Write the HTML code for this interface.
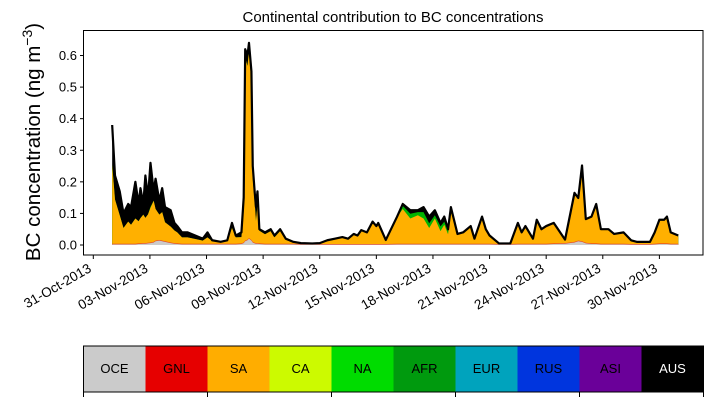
<!DOCTYPE html>
<html><head><meta charset="utf-8"><style>
html,body{margin:0;padding:0;background:#fff;}
svg{display:block;font-family:"Liberation Sans","DejaVu Sans",sans-serif;}
</style></head><body>
<svg id="chart" width="713" height="402" viewBox="0 0 713 402">
<text x="393" y="22" font-size="15" text-anchor="middle">Continental contribution to BC concentrations</text>
<text transform="translate(40,142) rotate(-90)" font-size="20.5" text-anchor="middle">BC concentration (ng m<tspan dy="-8" font-size="14">−3</tspan><tspan dy="8">)</tspan></text>
<g id="areas"></g>
<g id="yaxis"></g>
<g id="xaxis"></g>
<rect x="83.5" y="30.5" width="619.5" height="224.5" fill="none" stroke="#000" stroke-width="1"/>
<g id="cbar"></g>
</svg>
<script>
const days  = [1.00,1.15,1.40,1.60,1.85,2.00,2.23,2.40,2.50,2.65,2.76,2.90,3.03,3.20,3.30,3.50,3.65,3.80,4.10,4.30,4.45,4.70,5.00,5.40,5.80,6.05,6.30,6.75,7.10,7.35,7.55,7.85,7.97,8.05,8.17,8.25,8.38,8.45,8.55,8.62,8.70,8.80,9.10,9.40,9.60,9.90,10.20,10.60,11.00,11.60,12.00,12.40,12.80,13.20,13.50,13.80,14.00,14.20,14.50,14.80,15.00,15.10,15.50,16.10,16.40,16.80,17.20,17.50,17.80,18.10,18.40,18.60,18.80,18.95,19.30,19.60,20.00,20.20,20.60,20.80,21.00,21.50,22.10,22.50,22.70,22.90,23.30,23.50,23.75,24.00,24.40,25.00,25.50,25.70,25.90,26.10,26.40,26.65,26.90,27.30,27.60,28.10,28.50,28.80,29.50,29.75,30.00,30.25,30.40,30.60,31.00];
const total = [0.38,0.22,0.17,0.10,0.13,0.12,0.20,0.13,0.18,0.13,0.22,0.15,0.26,0.17,0.21,0.14,0.18,0.12,0.11,0.07,0.06,0.04,0.04,0.03,0.02,0.04,0.015,0.01,0.015,0.07,0.03,0.04,0.15,0.62,0.60,0.64,0.55,0.25,0.17,0.12,0.17,0.05,0.04,0.05,0.03,0.05,0.02,0.01,0.005,0.003,0.005,0.015,0.02,0.025,0.02,0.035,0.03,0.047,0.04,0.074,0.06,0.07,0.016,0.09,0.13,0.11,0.11,0.12,0.09,0.11,0.07,0.09,0.05,0.12,0.035,0.04,0.06,0.02,0.09,0.05,0.03,0.005,0.005,0.07,0.04,0.06,0.02,0.08,0.05,0.06,0.07,0.015,0.16,0.14,0.25,0.08,0.09,0.13,0.05,0.05,0.035,0.04,0.015,0.01,0.01,0.04,0.08,0.08,0.09,0.04,0.03];
const sa    = [0.25,0.14,0.09,0.05,0.07,0.06,0.08,0.07,0.08,0.09,0.08,0.09,0.11,0.13,0.10,0.08,0.09,0.06,0.05,0.04,0.035,0.02,0.02,0.015,0.01,0.02,0.008,0.005,0.008,0.05,0.02,0.02,0.10,0.58,0.55,0.59,0.50,0.20,0.13,0.07,0.12,0.04,0.03,0.04,0.02,0.04,0.015,0.005,0.003,0.002,0.003,0.01,0.015,0.02,0.015,0.03,0.025,0.042,0.035,0.068,0.055,0.064,0.012,0.085,0.11,0.08,0.09,0.08,0.05,0.08,0.04,0.06,0.03,0.10,0.03,0.035,0.055,0.016,0.085,0.045,0.026,0.002,0.002,0.065,0.036,0.055,0.016,0.075,0.045,0.055,0.065,0.011,0.155,0.135,0.24,0.075,0.085,0.125,0.045,0.045,0.03,0.035,0.011,0.006,0.006,0.035,0.075,0.075,0.085,0.035,0.026];
const na    = [0,0,0,0,0,0,0,0,0,0,0,0,0.003,0,0,0,0,0,0,0,0,0,0,0,0,0,0,0,0,0,0,0,0,0,0,0,0,0,0,0,0,0,0,0,0,0,0,0,0,0,0,0,0,0,0,0,0,0,0,0,0,0,0,0,0.01,0.015,0.01,0.02,0.015,0.01,0.015,0.01,0.01,0.005,0,0,0,0,0,0,0,0,0,0,0,0,0,0,0,0,0,0,0,0,0,0,0,0,0,0,0,0,0,0,0,0,0,0,0,0,0];
const oce   = [0.002,0.002,0.002,0.002,0.002,0.002,0.002,0.003,0.003,0.004,0.004,0.005,0.006,0.008,0.012,0.014,0.012,0.01,0.006,0.004,0.003,0.002,0.002,0.002,0.002,0.002,0.002,0.002,0.002,0.002,0.002,0.003,0.006,0.012,0.015,0.02,0.014,0.008,0.005,0.004,0.004,0.003,0.002,0.002,0.002,0.002,0.002,0.002,0.001,0.001,0.001,0.001,0.001,0.001,0.001,0.001,0.001,0.001,0.001,0.001,0.001,0.001,0.001,0.002,0.002,0.002,0.002,0.002,0.002,0.002,0.002,0.002,0.002,0.002,0.002,0.002,0.002,0.002,0.002,0.002,0.002,0.001,0.001,0.002,0.002,0.002,0.002,0.002,0.002,0.002,0.003,0.004,0.008,0.012,0.01,0.005,0.003,0.003,0.002,0.002,0.002,0.002,0.001,0.001,0.001,0.002,0.003,0.003,0.003,0.002,0.002];
const gnl = 0.002;
const yTicks = [0.0,0.1,0.2,0.3,0.4,0.5,0.6];
const xTickDays = [0,3,6,9,12,15,18,21,24,27,30];
const xTickLabels = ["31-Oct-2013","03-Nov-2013","06-Nov-2013","09-Nov-2013","12-Nov-2013","15-Nov-2013","18-Nov-2013","21-Nov-2013","24-Nov-2013","27-Nov-2013","30-Nov-2013"];
const regions = ["OCE","GNL","SA","CA","NA","AFR","EUR","RUS","ASI","AUS"];
const regionColors = ["#cbcbcb","#e60000","#ffad00","#ccfa00","#00dc00","#009a0e","#00a3bd","#0035de","#6a0099","#000000"];

const NS="http://www.w3.org/2000/svg";
const xs = d => 93.3 + d*18.87;
const ys = v => 245 - v*315.8;
function mk(tag, attrs, parent){const e=document.createElementNS(NS,tag);for(const k in attrs)e.setAttribute(k,attrs[k]);parent.appendChild(e);return e;}

const areas=document.getElementById('areas');
function areaPath(vals){
  let p='M'+xs(days[0])+','+ys(0);
  for(let i=0;i<days.length;i++) p+=' L'+xs(days[i]).toFixed(2)+','+ys(vals[i]).toFixed(2);
  p+=' L'+xs(days[days.length-1])+','+ys(0)+' Z';
  return p;
}
const cumOce = oce;
const cumGnl = oce.map(v=>v+gnl);
const cumSa = cumGnl.map((v,i)=>v+sa[i]);
const cumNa = cumSa.map((v,i)=>v+na[i]);
const cumTot = total.map((v,i)=>Math.max(v,cumNa[i]));
const layers=[[cumTot,"#000000","area-aus"],[cumNa,"#00b400","area-na-afr"],[cumSa,"#ffb000","area-sa"],[cumGnl,"#e64020","area-gnl"],[cumOce,"#cbcbcb","area-oce"]];
for(const [vals,col,nm] of layers){
  const e=mk('path',{d:areaPath(vals),fill:col,stroke:'none'},areas);
  
  
}
let lp='';
for(let i=0;i<days.length;i++) lp+=(i?' L':'M')+xs(days[i]).toFixed(2)+','+ys(cumTot[i]).toFixed(2);
const tl=mk('path',{d:lp,fill:'none',stroke:'#000','stroke-width':2.2,'stroke-linejoin':'round'},areas);



const ya=document.getElementById('yaxis');
for(const t of yTicks){
  const y=ys(t);
  const l=mk('line',{x1:80,x2:83.5,y1:y,y2:y,stroke:'#000'},ya);
  
  
  const tx=mk('text',{x:77,y:y+4.5,'font-size':13,'text-anchor':'end'},ya);
  tx.textContent=t.toFixed(1);
  
  
}
const xa=document.getElementById('xaxis');
xTickDays.forEach((d,i)=>{
  const x=xs(d);
  const l=mk('line',{x1:x,x2:x,y1:255,y2:259,stroke:'#000'},xa);
  
  
  const tx=mk('text',{transform:'translate('+(x-1)+',271) rotate(-30)','font-size':13.5,'text-anchor':'end'},xa);
  tx.textContent=xTickLabels[i];
  
  
});

const cb=document.getElementById('cbar');
const cw=62;
regions.forEach((r,i)=>{
  const x=83.5+i*cw;
  const rc=mk('rect',{x:x,y:346,width:cw,height:46,fill:regionColors[i]},cb);
  
  
  const tx=mk('text',{x:x+cw/2,y:373,'font-size':13,'text-anchor':'middle',fill:r==="AUS"?"#fff":"#000"},cb);
  tx.textContent=r;
  
  
});
const fr=mk('rect',{x:83.5,y:346,width:620,height:46,fill:'none',stroke:'#000'},cb);


for(let k=0;k<=5;k++){
  const x=83.5+k*124;
  const l=mk('line',{x1:x,x2:x,y1:392,y2:397,stroke:'#000'},cb);
  
  
}
</script>
</body></html>
